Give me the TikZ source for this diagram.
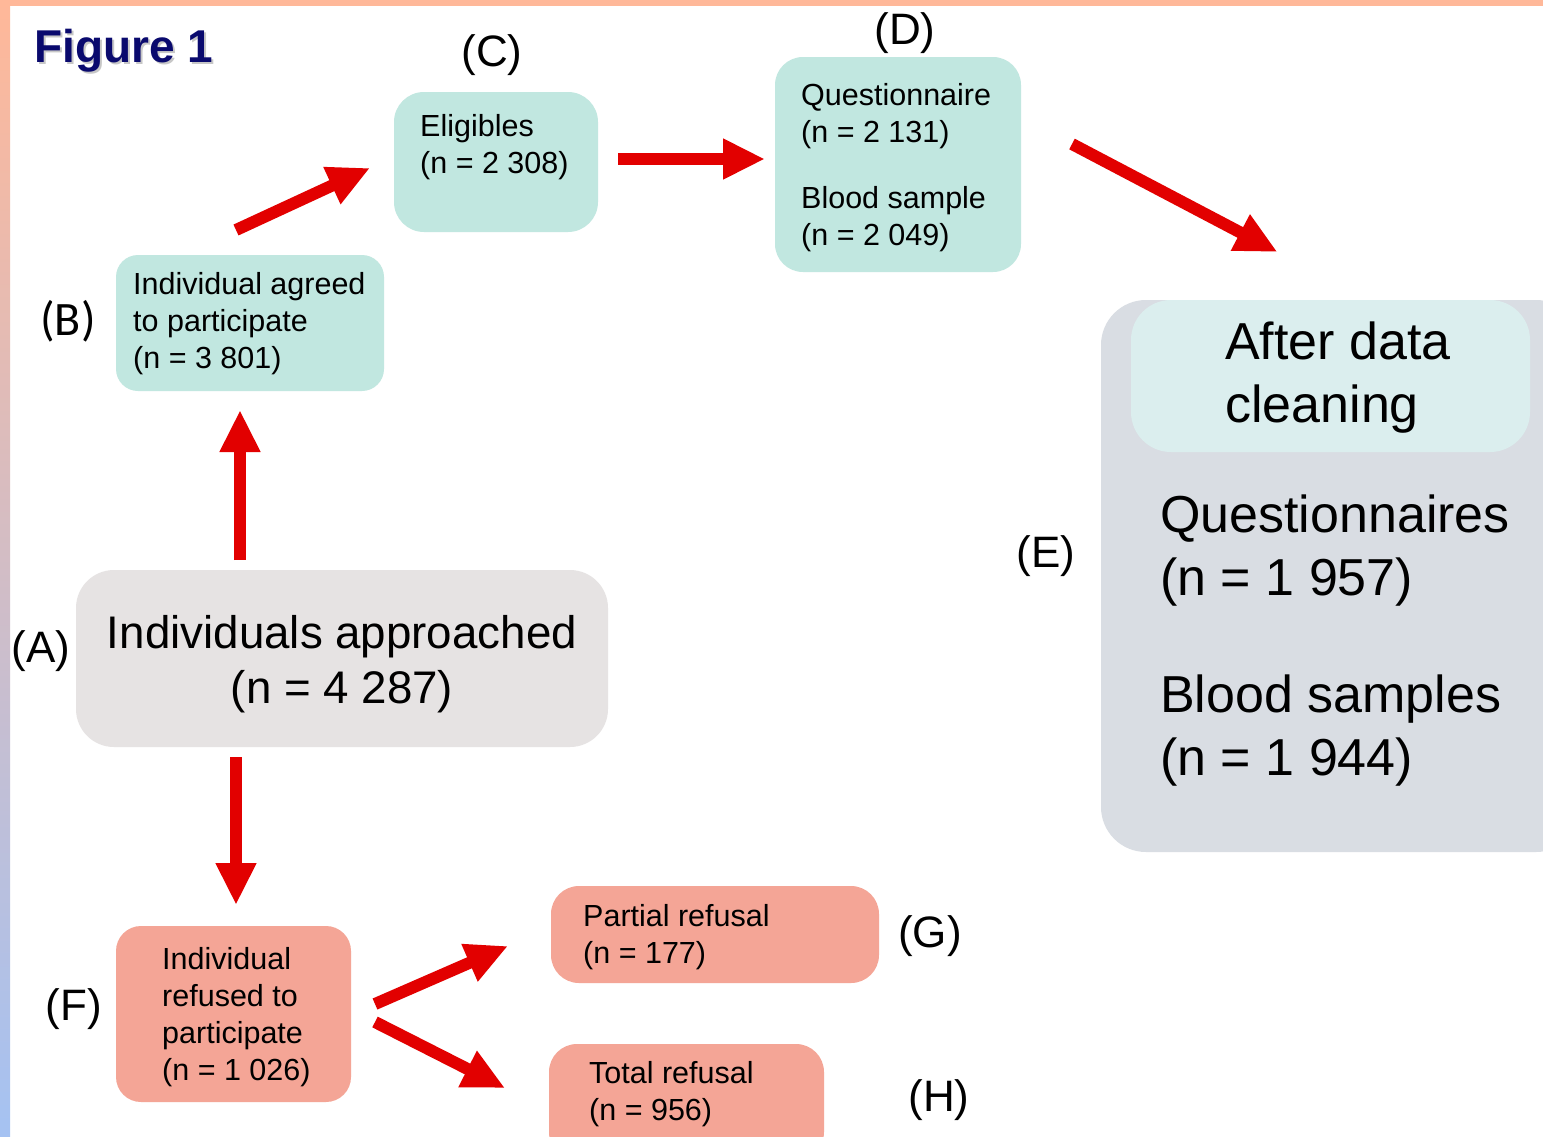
\documentclass[tikz,border=0pt]{standalone}
\usepackage{fontspec}
\setmainfont{Liberation Sans}
\newfontfamily\labfont{Carlito}
\usetikzlibrary{arrows.meta}
\definecolor{cteal}{HTML}{C1E7E0}
\definecolor{cgrayA}{HTML}{E6E3E3}
\definecolor{csalmon}{HTML}{F4A596}
\definecolor{couter}{HTML}{D9DDE3}
\definecolor{cinner}{HTML}{DBEEEE}
\definecolor{cred}{HTML}{E20000}
\definecolor{cnavy}{HTML}{0A0A6E}
\definecolor{corange}{HTML}{FFB899}
\definecolor{cyellow}{HTML}{FADDAA}
\definecolor{cblue}{HTML}{A5C2F2}
\begin{document}
\begin{tikzpicture}[x=1pt,y=-1pt,
  rbox/.style={rounded corners=#1, inner sep=0pt, outer sep=0pt, draw=none},
  small/.style={font=\fontsize{30.5}{37}\selectfont, inner sep=0pt, align=left, anchor=west},
  mid/.style={font=\fontsize{45.7}{55}\selectfont, inner sep=0pt, align=center},
  big/.style={font=\fontsize{52}{63}\selectfont, inner sep=0pt, align=left, anchor=west},
  lab/.style={font=\fontsize{44}{50}\selectfont, inner sep=0pt},
  arr/.style={draw=cred, line width=12pt, -{Triangle[length=42pt,width=38pt]}}
]
\useasboundingbox (0,0) rectangle (1543,1136);
\fill[white] (0,0) rectangle (1543,1136);
% border bands
\fill[corange] (0,0) rectangle (1543,6);
\shade[top color=corange, middle color=cyellow, bottom color=cblue] (0,0) rectangle (10,1136);

% title
\node[font=\fontsize{46}{50}\selectfont\bfseries, text=black!22, inner sep=0pt] (titleshadow) at (126,53) {Figure 1};
\node[font=\fontsize{46}{50}\selectfont\bfseries, text=cnavy, inner sep=0pt] (title) at (124,51) {Figure 1};

% boxes
\node[rbox=38pt, fill=cgrayA, minimum width=532pt, minimum height=177pt] (A) at (342,658.5) {};
\node[mid] (At) at (342,664) {Individuals approached\\(n = 4 287)};

\node[rbox=22pt, fill=cteal, minimum width=268pt, minimum height=136pt] (B) at (250,323) {};
\node[small] (Bt) at (133,324) {Individual agreed\\to participate\\(n = 3 801)};

\node[rbox=30pt, fill=cteal, minimum width=204pt, minimum height=140pt] (C) at (496,162) {};
\node[small] (Ct) at (420,147.5) {Eligibles\\(n = 2 308)};

\node[rbox=28pt, fill=cteal, minimum width=246pt, minimum height=215pt] (D) at (898,164.5) {};
\node[small] (Dt) at (801,168) {Questionnaire\\(n = 2 131)\\[29pt]Blood sample\\(n = 2 049)};

\node[rbox=45pt, fill=couter, minimum width=480pt, minimum height=552pt] (E) at (1341,576) {};
\node[rbox=40pt, fill=cinner, minimum width=399pt, minimum height=152pt] (Ei) at (1330.5,376) {};
\node[big] (Eit) at (1225,378) {After data\\cleaning};
\node[big] (Et) at (1160,641) {Questionnaires\\(n = 1 957)\\[54pt]Blood samples\\(n = 1 944)};

\node[rbox=25pt, fill=csalmon, minimum width=235pt, minimum height=176pt] (F) at (233.5,1014) {};
\node[small] (Ft) at (162,1017.5) {Individual\\refused to\\participate\\(n = 1 026)};

\node[rbox=28pt, fill=csalmon, minimum width=328pt, minimum height=97pt] (G) at (715,934.5) {};
\node[small] (Gt) at (583,937) {Partial refusal\\(n = 177)};

\node[rbox=28pt, fill=csalmon, minimum width=275pt, minimum height=116pt] (H) at (686.5,1102) {};
\node[small] (Ht) at (589,1094.5) {Total refusal\\(n = 956)};

% labels
\node[lab] (LA) at (41,651) {(A)};
\node[lab, font=\labfont\fontsize{48}{50}\selectfont] (LB) at (68,321) {(B)};
\node[lab] (LC) at (492,55) {(C)};
\node[lab] (LD) at (905,33) {(D)};
\node[lab] (LE) at (1046,556) {(E)};
\node[lab] (LF) at (74,1009) {(F)};
\node[lab] (LG) at (930,936) {(G)};
\node[lab] (LH) at (939,1100) {(H)};

% arrows
\draw[arr] ([xshift=-102pt,yshift=10pt]A.north) -- ([xshift=-10pt,yshift=-19pt]B.south);
\draw[arr] ([xshift=-14pt,yshift=25pt]B.north) -- ([xshift=-24pt,yshift=-6pt]C.west);
\draw[arr] ([xshift=20pt,yshift=3pt]C.east) -- ([xshift=-10pt,yshift=5.5pt]D.west);
\draw[arr] ([xshift=51pt,yshift=20.5pt]D.east) -- ([xshift=-53pt,yshift=48pt]Ei.north);
\draw[arr] ([xshift=-106pt,yshift=-10pt]A.south) -- ([xshift=2.5pt,yshift=21pt]F.north);
\draw[arr] ([xshift=24pt,yshift=10pt]F.east) -- ([xshift=-43pt,yshift=-11.5pt]G.west);
\draw[arr] ([xshift=24pt,yshift=-8pt]F.east) -- ([xshift=-44pt,yshift=14pt]H.west);
\end{tikzpicture}
\end{document}
